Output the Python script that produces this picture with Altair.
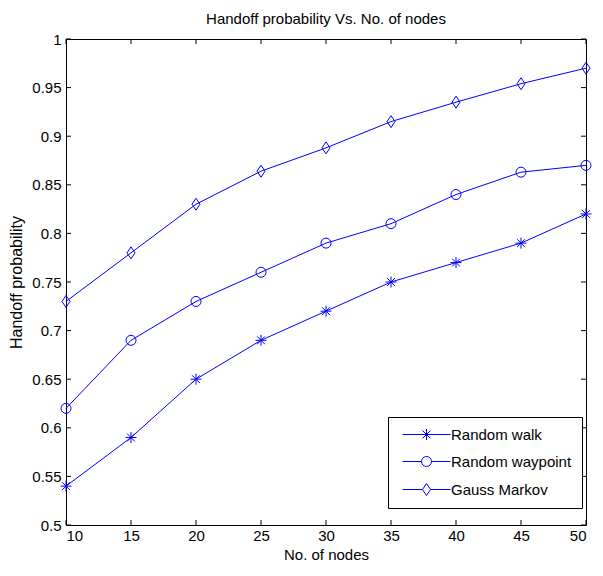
import altair as alt
import pandas as pd

nodes = [10, 15, 20, 25, 30, 35, 40, 45, 50]
random_walk = [0.54, 0.59, 0.65, 0.69, 0.72, 0.75, 0.77, 0.79, 0.82]
random_waypoint = [0.62, 0.69, 0.73, 0.76, 0.79, 0.81, 0.84, 0.863, 0.87]
gauss_markov = [0.73, 0.78, 0.83, 0.864, 0.888, 0.915, 0.935, 0.954, 0.97]
series_names = ["Random walk", "Random waypoint", "Gauss Markov"]
x_ticks = [10, 15, 20, 25, 30, 35, 40, 45, 50]
y_ticks = [0.5, 0.55, 0.6, 0.65, 0.7, 0.75, 0.8, 0.85, 0.9, 0.95, 1.0]

rows = []
for name, vals in zip(series_names, [random_walk, random_waypoint, gauss_markov]):
    for n, v in zip(nodes, vals):
        rows.append({"n": n, "p": v, "series": name})
df = pd.DataFrame(rows)

W, H = 520, 486
BLUE = "#0000ff"
FONT = "Liberation Sans"

marker_paths = [
    "M-1.1,0L1.1,0M0,-1.1L0,1.1M-0.78,-0.78L0.78,0.78M-0.78,0.78L0.78,-0.78",
    "M-1,0A1,1 0 1,0 1,0A1,1 0 1,0 -1,0Z",
    "M0,-1.2L0.8,0L0,1.2L-0.8,0Z",
]
legend_paths = [
    "M-4.8,0L4.8,0M0,-1.1L0,1.1M-0.78,-0.78L0.78,0.78M-0.78,0.78L0.78,-0.78",
    "M-4.8,0L-1,0M1,0L4.8,0M-1,0A1,1 0 1,0 1,0A1,1 0 1,0 -1,0Z",
    "M-4.8,0L-0.8,0M0.8,0L4.8,0M0,-1.2L0.8,0L0,1.2L-0.8,0Z",
]

xs = alt.Scale(domain=[10, 50], nice=False, zero=False)
ys = alt.Scale(domain=[0.5, 1.0], nice=False, zero=False)

x_enc = alt.X("n:Q", scale=xs, title="No. of nodes",
              axis=alt.Axis(values=x_ticks, format="d", ticks=False, domain=False,
                            grid=False, labelPadding=3, titlePadding=4, titleFontSize=15))
y_enc = alt.Y("p:Q", scale=ys, title="Handoff probability",
              axis=alt.Axis(values=y_ticks, format="~g", ticks=False, domain=False,
                            grid=False, labelPadding=5, titlePadding=7, titleFontSize=16))

base = alt.Chart(df)
lines = base.mark_line(color=BLUE, strokeWidth=1).encode(x=x_enc, y=y_enc, detail="series:N")
points = base.mark_point(filled=False, color=BLUE, size=100, strokeWidth=1, opacity=1).encode(
    x="n:Q", y="p:Q",
    shape=alt.Shape("series:N", scale=alt.Scale(domain=series_names, range=marker_paths), legend=None),
)
legend_layer = base.transform_filter("datum.n < 0").mark_point(
    filled=False, color=BLUE, size=100, strokeWidth=1, opacity=1).encode(
    x="n:Q", y="p:Q",
    shape=alt.Shape("series:N", scale=alt.Scale(domain=series_names, range=legend_paths),
                    legend=alt.Legend(title=None, orient="none", legendX=322, legendY=378,
                                      strokeColor="black", fillColor="white", padding=10,
                                      symbolOffset=21, labelOffset=17, rowPadding=11,
                                      labelFontSize=15, labelFont=FONT, labelColor="black",
                                      symbolSize=100, symbolStrokeColor=BLUE,
                                      symbolStrokeWidth=1, cornerRadius=0,
                                      labelLimit=300)),
)

xt = pd.DataFrame({"n": x_ticks})
yt = pd.DataFrame({"p": y_ticks})
xtick_b = alt.Chart(xt).mark_rule(color="black", strokeWidth=1).encode(
    x=alt.X("n:Q", scale=xs), y=alt.value(H), y2=alt.value(H - 5))
xtick_t = alt.Chart(xt).mark_rule(color="black", strokeWidth=1).encode(
    x=alt.X("n:Q", scale=xs), y=alt.value(0), y2=alt.value(5))
ytick_l = alt.Chart(yt).mark_rule(color="black", strokeWidth=1).encode(
    y=alt.Y("p:Q", scale=ys), x=alt.value(0), x2=alt.value(5))
ytick_r = alt.Chart(yt).mark_rule(color="black", strokeWidth=1).encode(
    y=alt.Y("p:Q", scale=ys), x=alt.value(W - 5), x2=alt.value(W))

chart = alt.layer(lines, points, legend_layer, xtick_b, xtick_t, ytick_l, ytick_r).resolve_scale(
    shape="independent"
).properties(
    width=W, height=H, background="white",
    padding={"left": 0, "top": 4, "right": 0, "bottom": 0},
    title=alt.Title("Handoff probability Vs. No. of nodes", fontSize=15, font=FONT,
                    fontWeight="normal", color="black", offset=5),
).configure_view(stroke="black", strokeWidth=1).configure_axis(
    labelFont=FONT, titleFont=FONT, labelFontSize=15, titleFontSize=15,
    labelColor="black", titleColor="black", titleFontWeight="normal",
)

chart.save("out.html", embed_options={"renderer": "svg", "actions": False})
